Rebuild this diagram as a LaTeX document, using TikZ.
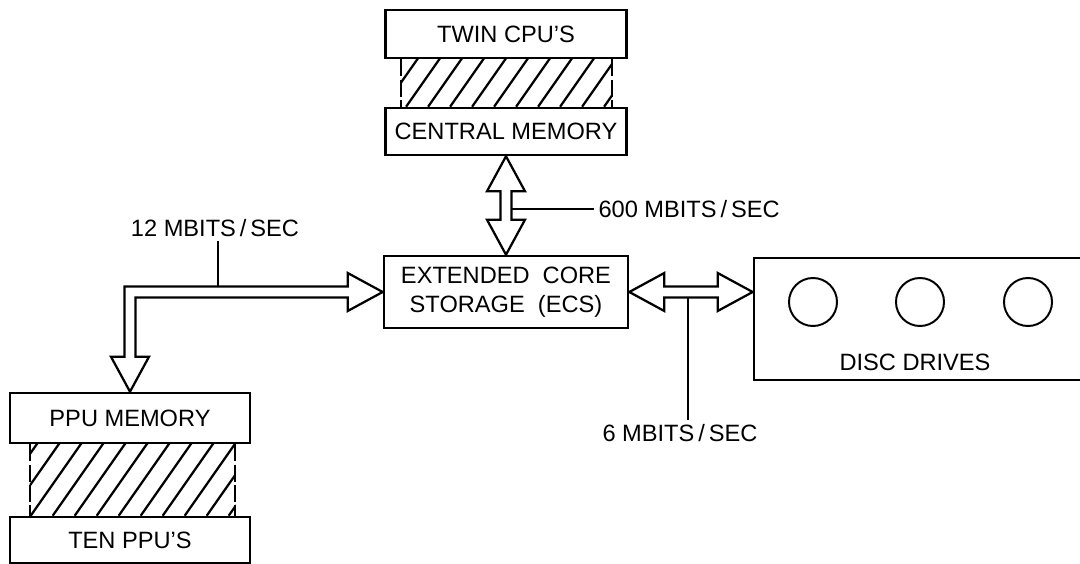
\documentclass[tikz,border=0pt]{standalone}
\usepackage{fontspec}
\setmainfont{Liberation Sans}
\usetikzlibrary{calc,math}
\tikzset{box/.style={draw,line width=1.8pt,inner sep=0pt,align=center}}
\tikzset{fat/.style={draw,line width=1.6pt,line join=miter}}
\tikzset{lead/.style={line width=1.4pt}}
\tikzset{rate/.style={inner sep=3pt}}
\tikzset{hatchline/.style={line width=1.6pt}}
\tikzset{hatchside/.style={line width=1.6pt,dash pattern=on 12pt off 2.5pt}}
\tikzset{disk/.style={draw,circle,line width=1.4pt,minimum size=1.2cm,inner sep=0pt}}

\begin{document}
\begin{tikzpicture}[x=0.025cm,y=-0.025cm,font=\fontsize{16.8}{21}\selectfont]
    \tikzmath{\hw=19;\sw=5.5;\hl=35;\hs=22;}
    \useasboundingbox (0,0) rectangle (1080,564);
    % processor stacks
    \node [box,minimum width=6.03cm,minimum height=1.2cm] (cpu) at (506,34) {TWIN CPU'S};
    \node [box,minimum width=6.03cm,minimum height=1.175cm] (cm) at (506,131.5) {CENTRAL MEMORY};
    \node [box,minimum width=6.1cm,minimum height=1.8cm] (ecs) at (506,292) {EXTENDED\ \ CORE\\STORAGE\ \ (ECS)};
    \node [box,minimum width=6cm,minimum height=1.25cm] (ppu) at (130,418) {PPU MEMORY};
    \node [box,minimum width=6cm,minimum height=1.15cm] (ten) at (130,540) {TEN PPU'S};
    % hatched bands
    \begin{scope}
        \clip ($(cpu.south west)+(17,0)$) rectangle ($(cm.north east)+(-16,0)$);
        \foreach \k in {-4,...,11}
            \draw [hatchline] ($(cm.north west)+(\k*\hs,0)$) -- ++(70,-100);
    \end{scope}
    \draw [hatchside] ($(cpu.south west)+(17,0)$) -- ($(cm.north west)+(17,0)$)
        ($(cpu.south east)+(-16,0)$) -- ($(cm.north east)+(-16,0)$);
    \begin{scope}
        \clip ($(ppu.south west)+(21,0)$) rectangle ($(ten.north east)+(-16,0)$);
        \foreach \k in {-4,...,12}
            \draw [hatchline] ($(ten.north west)+(\k*\hs,0)$) -- ++(70,-100);
    \end{scope}
    \draw [hatchside] ($(ppu.south west)+(21,0)$) -- ($(ten.north west)+(21,0)$)
        ($(ppu.south east)+(-16,0)$) -- ($(ten.north east)+(-16,0)$);
    % disc drives
    \begin{scope}
        \clip (0,0) rectangle (1080,564);
        \node [box,minimum width=8.6cm,minimum height=3.05cm] (disc) at (926,319) {};
    \end{scope}
    \foreach \x [count=\i] in {813,920,1028}
        \node [disk] (drive\i) at (\x,302) {};
    \node (dlabel) at (915,362) {DISC DRIVES};
    % wide arrows
    \draw [fat] (cm.south) -- ++(-\hw,\hl) -- ++(\hw-\sw,0) -- ($(ecs.north)+(-\sw,-\hl)$) -- ++(\sw-\hw,0)
        -- (ecs.north) -- ++(\hw,-\hl) -- ++(\sw-\hw,0) -- ($(cm.south)+(\sw,\hl)$) -- ++(\hw-\sw,0) -- cycle;
    \coordinate (dtip) at (disc.west |- ecs.east);
    \draw [fat] (ecs.east) -- ++(\hl,-\hw) -- ++(0,\hw-\sw) -- ($(dtip)+(-\hl,-\sw)$) -- ++(0,\sw-\hw)
        -- (dtip) -- ++(-\hl,\hw) -- ++(0,\sw-\hw) -- ($(ecs.east)+(\hl,\sw)$) -- ++(0,\hw-\sw) -- cycle;
    \draw [fat] (ppu.north) -- ++(-\hw,-\hl) -- ++(\hw-\sw,0) |- ($(ecs.west)+(-\hl,-\sw)$) -- ++(0,\sw-\hw)
        -- (ecs.west) -- ++(-\hl,\hw) -- ++(0,\sw-\hw) -| ($(ppu.north)+(\sw,-\hl)$) -- ++(\hw-\sw,0) -- cycle;
    % transfer rates
    \node [rate,anchor=west] (r600) at (594,209) {600 MBITS\,/\,SEC};
    \coordinate (s600) at ($(cm.south)+(\sw,0)$);
    \draw [lead] (s600 |- r600.west) -- (r600.west);
    \node [rate] (r12) at (215,228) {12 MBITS\,/\,SEC};
    \coordinate (s12) at ($(ecs.west)+(-165,-\sw)$);
    \draw [lead] (s12) -- (s12 |- r12.south);
    \node [rate] (r6) at (680,433) {6 MBITS\,/\,SEC};
    \coordinate (s6) at ($(ecs.east)+(59,\sw)$);
    \draw [lead] (s6) -- (s6 |- r6.north);
\end{tikzpicture}
\end{document}
